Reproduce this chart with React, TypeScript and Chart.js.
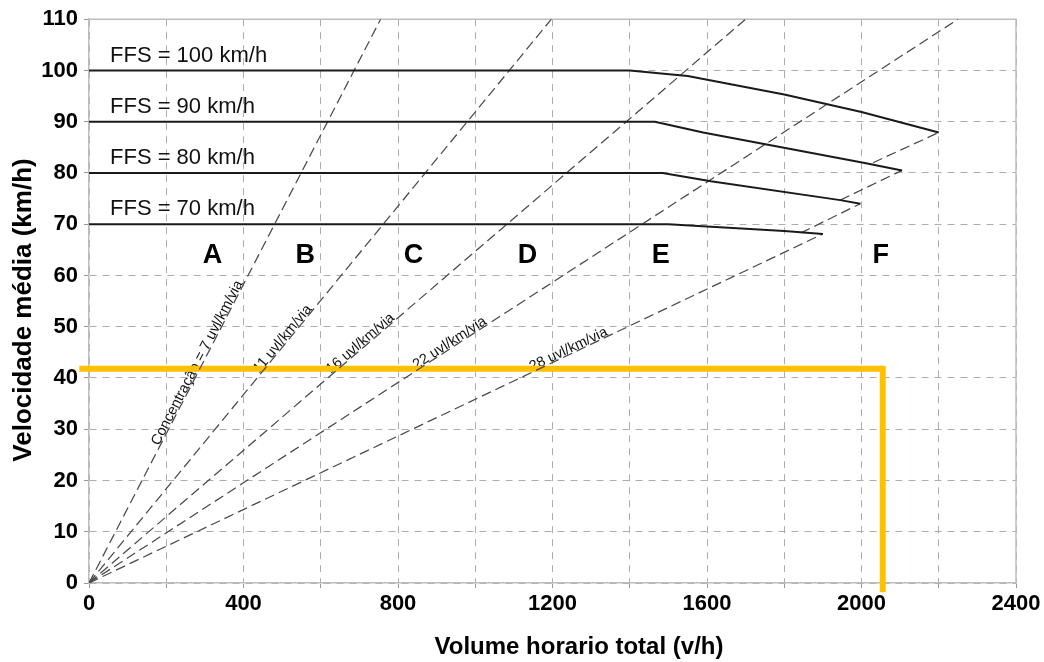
import React, { useEffect, useRef } from 'react';
import { Chart, registerables } from 'chart.js';

Chart.register(...registerables);

// ---- Data ----
const flowMin = 0;
const flowMax = 2400;
const speedMin = 0;
const speedMax = 110;

// Free-flow speed curves (flow v/h, speed km/h)
const ffsValues = [100, 90, 80, 70];
const ffs100Flow = [0, 1400, 1550, 1800, 2000, 2200];
const ffs100Speed = [100, 100, 98.9, 95.3, 91.9, 87.9];
const ffs90Flow = [0, 1465, 1590, 2005, 2105];
const ffs90Speed = [90, 90, 87.9, 82.0, 80.5];
const ffs80Flow = [0, 1485, 1610, 1945, 1997];
const ffs80Speed = [80, 80, 78.4, 74.7, 74.0];
const ffs70Flow = [0, 1500, 1800, 1900];
const ffs70Speed = [70, 70, 68.7, 68.1];

// Density lines from origin
const densityValues = [7, 11, 16, 22, 28];
const densityEndFlow = [755, 1197, 1700, 2250, 1900];
const densityEndSpeed = [110, 110, 110, 110, 68.1];
const densityLabelSpeed = [42.5, 47, 46, 46, 44.7];
const densityLabels = [
  'Concentração = 7 uvl/km/via',
  '11 uvl/km/via',
  '16 uvl/km/via',
  '22 uvl/km/via',
  '28 uvl/km/via',
];

// Capacity boundary segments (density 27, 26, 25)
const boundaryStartFlow = [1843, 1945, 2030];
const boundaryStartSpeed = [68.3, 74.7, 82.0];
const boundaryEndFlow = [1997, 2105, 2200];
const boundaryEndSpeed = [74.0, 80.5, 87.9];

// LOS letters
const losLetters = ['A', 'B', 'C', 'D', 'E', 'F'];
const losLabelFlow = [320, 560, 840, 1135, 1480, 2050];
const losLabelSpeed = 63.8;

// Highlighted reading (orange)
const readFlow = [-25, 2055, 2055];
const readSpeed = [41.8, 41.8, -1.8];

const FONT = '"Liberation Sans", Arial, Helvetica, sans-serif';

const pts = (xs: number[], ys: number[]) => xs.map((x, i) => ({ x, y: ys[i] }));

const ffsSeries = [
  pts(ffs100Flow, ffs100Speed),
  pts(ffs90Flow, ffs90Speed),
  pts(ffs80Flow, ffs80Speed),
  pts(ffs70Flow, ffs70Speed),
];

const dashStyle = {
  borderColor: '#4a4a4a',
  borderWidth: 1.25,
  borderDash: [10, 5],
  pointRadius: 0,
  fill: false,
  tension: 0,
};

const annotPlugin = {
  id: 'annot',
  beforeDatasetsDraw(chart: any) {
    const { ctx, chartArea, scales } = chart;
    const xs = scales.x;
    const ys = scales.y;
    ctx.save();
    // plot box top/right
    ctx.strokeStyle = '#bdbdbd';
    ctx.lineWidth = 1.5;
    ctx.beginPath();
    ctx.moveTo(chartArea.left, chartArea.top);
    ctx.lineTo(chartArea.right, chartArea.top);
    ctx.lineTo(chartArea.right, chartArea.bottom);
    ctx.stroke();

    ctx.fillStyle = '#111';
    // FFS labels
    ctx.font = `22px ${FONT}`;
    ctx.textAlign = 'left';
    ctx.textBaseline = 'middle';
    ffsValues.forEach((v) => {
      ctx.fillText(`FFS = ${v} km/h`, xs.getPixelForValue(0) + 21, ys.getPixelForValue(v) - 15);
    });

    // LOS letters
    ctx.font = `bold 27px ${FONT}`;
    ctx.textAlign = 'center';
    ctx.fillStyle = '#000';
    losLetters.forEach((l, i) => {
      ctx.fillText(l, xs.getPixelForValue(losLabelFlow[i]), ys.getPixelForValue(losLabelSpeed));
    });

    // density labels
    ctx.font = `14.5px ${FONT}`;
    ctx.fillStyle = '#111';
    densityValues.forEach((k, i) => {
      const v = densityLabelSpeed[i];
      const q = (v * densityEndFlow[i]) / densityEndSpeed[i];
      const px = xs.getPixelForValue(q);
      const py = ys.getPixelForValue(v);
      const ang = Math.atan2(
        ys.getPixelForValue(densityEndSpeed[i]) - ys.getPixelForValue(0),
        xs.getPixelForValue(densityEndFlow[i]) - xs.getPixelForValue(0)
      );
      ctx.save();
      ctx.translate(px, py);
      ctx.rotate(ang);
      ctx.textAlign = 'center';
      ctx.textBaseline = 'alphabetic';
      ctx.fillText(densityLabels[i], 0, -1);
      ctx.restore();
    });

    // axis titles
    ctx.fillStyle = '#000';
    ctx.font = `bold 24px ${FONT}`;
    ctx.textAlign = 'center';
    ctx.textBaseline = 'middle';
    ctx.fillText('Volume horario total (v/h)', 579, 647);
    ctx.save();
    ctx.font = `bold 26px ${FONT}`;
    ctx.translate(24, 310);
    ctx.rotate(-Math.PI / 2);
    ctx.fillText('Velocidade média (km/h)', 0, 0);
    ctx.restore();
    ctx.restore();
  },
};

export default function App() {
  const ref = useRef<HTMLCanvasElement>(null);
  useEffect(() => {
    document.body.style.margin = '0';
    const datasets: any[] = [];
    ffsSeries.forEach((data, i) => {
      datasets.push({
        label: `FFS ${ffsValues[i]}`,
        data,
        borderColor: '#1a1a1a',
        borderWidth: 2,
        pointRadius: 0,
        fill: false,
        tension: 0,
        borderJoinStyle: 'round',
      });
    });
    densityValues.forEach((k, i) => {
      datasets.push({
        label: `k ${k}`,
        data: [
          { x: 0, y: 0 },
          { x: densityEndFlow[i], y: densityEndSpeed[i] },
        ],
        ...dashStyle,
      });
    });
    boundaryStartFlow.forEach((q, i) => {
      datasets.push({
        label: `boundary ${i}`,
        data: [
          { x: q, y: boundaryStartSpeed[i] },
          { x: boundaryEndFlow[i], y: boundaryEndSpeed[i] },
        ],
        ...dashStyle,
      });
    });
    datasets.push({
      label: 'leitura',
      data: pts(readFlow, readSpeed),
      borderColor: '#FFC000',
      borderWidth: 6,
      pointRadius: 0,
      fill: false,
      tension: 0,
      clip: false,
      borderJoinStyle: 'miter',
      borderCapStyle: 'butt',
    });

    const tickFont = { family: FONT, size: 22, weight: 'bold' as const };
    const chart = new Chart(ref.current!, {
      type: 'line',
      data: { datasets },
      options: {
        responsive: false,
        animation: false,
        layout: { padding: { left: 0, top: 18, right: 28, bottom: 0 } },
        plugins: { legend: { display: false }, tooltip: { enabled: false } },
        scales: {
          x: {
            type: 'linear',
            min: flowMin,
            max: flowMax,
            ticks: {
              stepSize: 200,
              autoSkip: false,
              maxRotation: 0,
              padding: 3,
              color: '#000',
              font: tickFont,
              callback: (v: any) => (Number(v) % 400 === 0 ? String(v) : ''),
            },
            grid: { color: '#adadad', lineWidth: 1, tickLength: 5, tickColor: '#999' },
            border: { display: true, color: '#bdbdbd', width: 1.5, dash: [7, 6] },
            afterFit: (s: any) => {
              s.height = 79;
            },
          },
          y: {
            type: 'linear',
            min: speedMin,
            max: speedMax,
            ticks: { stepSize: 10, padding: 6, color: '#000', font: tickFont },
            grid: { color: '#adadad', lineWidth: 1, tickLength: 5, tickColor: '#999' },
            border: { display: true, color: '#bdbdbd', width: 1.5, dash: [7, 6] },
            afterFit: (s: any) => {
              s.width = 89;
            },
          },
        },
      } as any,
      plugins: [annotPlugin],
    });
    return () => chart.destroy();
  }, []);
  return (
    <div style={{ width: 1044, height: 662, background: '#fff' }}>
      <canvas ref={ref} width={1044} height={662} style={{ display: 'block' }} />
    </div>
  );
}
